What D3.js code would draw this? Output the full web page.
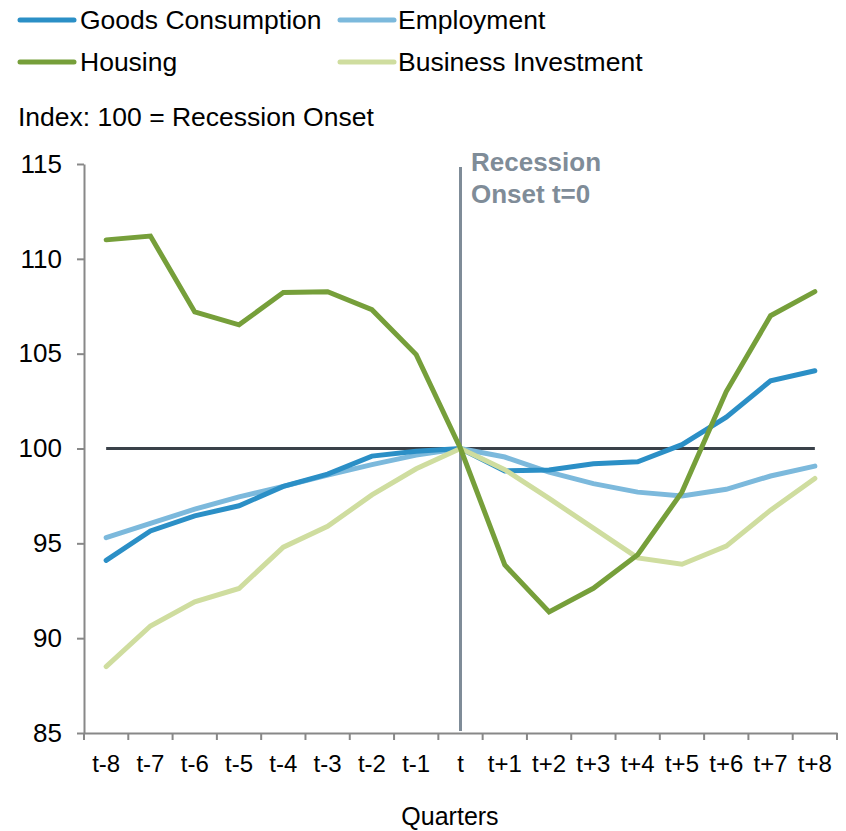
<!DOCTYPE html>
<html><head><meta charset="utf-8">
<script src="https://cdn.jsdelivr.net/npm/d3@7"></script>
<style>body{margin:0;background:#fff;} text{font-family:"Liberation Sans",Arial,sans-serif;}</style>
</head><body><svg id="c" width="846" height="831"></svg>
<script>
const quarters = ["t-8","t-7","t-6","t-5","t-4","t-3","t-2","t-1","t","t+1","t+2","t+3","t+4","t+5","t+6","t+7","t+8"];
const goods = [94.1,95.65,96.45,96.98,98.0,98.65,99.6,99.85,100,98.82,98.87,99.2,99.3,100.2,101.65,103.57,104.1];
const employment = [95.3,96.05,96.8,97.45,98.0,98.6,99.15,99.65,100,99.55,98.75,98.15,97.7,97.5,97.85,98.55,99.07];
const housing = [111.0,111.2,107.2,106.52,108.22,108.27,107.32,104.95,100,93.86,91.38,92.63,94.4,97.7,103.0,107.0,108.27];
const business = [88.5,90.64,91.92,92.62,94.8,95.9,97.55,98.93,100,98.88,97.37,95.8,94.23,93.9,94.85,96.75,98.42];
const seriesNames = ["Goods Consumption","Employment","Housing","Business Investment"];
const seriesColors = ["#2b8fc6","#7cb9dc","#769f3a","#cfdd9f"];
const yTicks = [85,90,95,100,105,110,115];

const svg = d3.select("#c");
const x = d3.scaleBand().domain(quarters).range([84,837]);
const y = d3.scaleLinear().domain([85,115]).range([733,164]);
const cx = d => x(d)+x.bandwidth()/2;

// legend
const legendX = [[20,80],[340,398],[20,80],[340,398]];
const legendY = [20,20,62,62];
seriesNames.forEach((n,i)=>{
  const [sx,tx] = legendX[i];
  const ly = legendY[i];
  svg.append("line").attr("x1",sx).attr("x2",sx+54).attr("y1",ly).attr("y2",ly)
    .attr("stroke",seriesColors[i]).attr("stroke-width",5).attr("stroke-linecap","round");
  svg.append("text").attr("x",tx).attr("y",ly).attr("dy","0.35em").attr("font-size",26.5).attr("fill","#000").text(n);
});
svg.append("text").attr("x",18).attr("y",117).attr("dy","0.35em").attr("font-size",26.5).text("Index: 100 = Recession Onset");

// axes
const yAxis = d3.axisLeft(y).tickValues(yTicks).tickSize(7).tickSizeOuter(0).tickPadding(15);
const gy = svg.append("g").attr("transform","translate(84,0)").call(yAxis);
gy.select(".domain").attr("stroke","#888").attr("stroke-width",2);
gy.selectAll(".tick line").attr("stroke","#888").attr("stroke-width",2);
gy.selectAll(".tick text").attr("font-size",26).attr("fill","#000").attr("font-family","Liberation Sans, Arial");

const xAxis = d3.axisBottom(x).tickSize(0).tickPadding(22);
const gx = svg.append("g").attr("transform","translate(0,733)").call(xAxis);
gx.select(".domain").attr("stroke","#888").attr("stroke-width",2);
gx.selectAll(".tick text").attr("font-size",24).attr("fill","#000").attr("font-family","Liberation Sans, Arial");
// band boundary ticks
const bounds = quarters.map(q=>x(q)).concat([x.range()[1]]);
svg.append("g").selectAll("line").data(bounds).join("line")
  .attr("x1",d=>d).attr("x2",d=>d).attr("y1",733).attr("y2",740)
  .attr("stroke","#888").attr("stroke-width",2);

svg.append("text").attr("x",450).attr("y",825).attr("text-anchor","middle").attr("font-size",25).text("Quarters");

// reference 100 line
svg.append("line").attr("x1",cx("t-8")).attr("x2",cx("t+8")).attr("y1",y(100)).attr("y2",y(100))
  .attr("stroke","#3a4149").attr("stroke-width",3);
// recession onset line
svg.append("line").attr("x1",cx("t")).attr("x2",cx("t")).attr("y1",167).attr("y2",731)
  .attr("stroke","#7f8c98").attr("stroke-width",3);
svg.append("text").attr("x",471).attr("y",162).attr("dy","0.35em").attr("font-size",26).attr("font-weight","bold").attr("fill","#7f8c98").text("Recession");
svg.append("text").attr("x",471).attr("y",194).attr("dy","0.35em").attr("font-size",26).attr("font-weight","bold").attr("fill","#7f8c98").text("Onset t=0");

// series (drawn in stacking order)
const line = d3.line().x((d,i)=>cx(quarters[i])).y(d=>y(d));
[employment,goods,business,housing].forEach((s,k)=>{
  const ci = [1,0,3,2][k];
  svg.append("path").attr("d",line(s)).attr("fill","none").attr("stroke",seriesColors[ci])
    .attr("stroke-width",5).attr("stroke-linejoin","miter").attr("stroke-linecap","round");
});
</script></body></html>
